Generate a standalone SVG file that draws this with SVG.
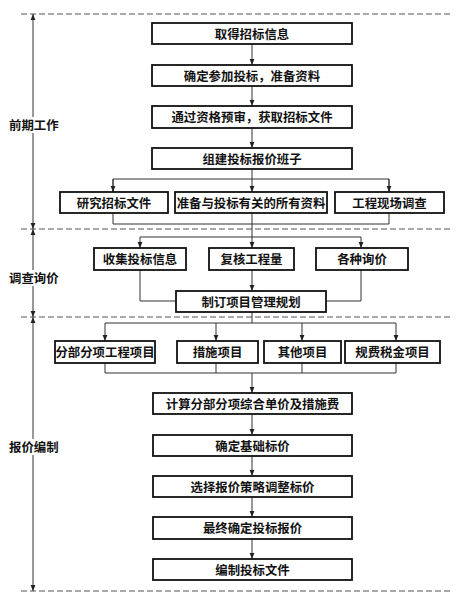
<svg xmlns="http://www.w3.org/2000/svg" width="471" height="606" viewBox="0 0 471 606">
<defs>
<marker id="ah" viewBox="0 0 6 6" refX="6" refY="3" markerWidth="6" markerHeight="6" markerUnits="userSpaceOnUse" orient="auto">
<path d="M0,0.6 L6,3 L0,5.4 Z" fill="#222"/>
</marker>
<style>
.box{fill:#fff;stroke:#111;stroke-width:1.8}
.t{font-family:"Noto Sans CJK SC","Noto Sans",sans-serif;font-size:12.4px;font-weight:bold;fill:#111;text-anchor:middle;dominant-baseline:central}
.c{fill:none;stroke:#333;stroke-width:1}
.a{fill:none;stroke:#333;stroke-width:1;marker-end:url(#ah)}
.d{fill:none;stroke:#555;stroke-width:1.2;stroke-dasharray:6 3}
.lbl{font-family:"Noto Sans CJK SC","Noto Sans",sans-serif;font-size:12.4px;font-weight:bold;fill:#111;dominant-baseline:central}
</style>
</defs>
<rect width="471" height="606" fill="#fff"/>
<g id="phases">
<line class="d" x1="21" y1="14" x2="452" y2="14"/>
<line class="d" x1="21" y1="229" x2="452" y2="229"/>
<line class="d" x1="21" y1="317" x2="452" y2="317"/>
<line class="d" x1="21" y1="591" x2="452" y2="591"/>
<line class="a" x1="33" y1="120" x2="33" y2="14"/>
<line class="a" x1="33" y1="130" x2="33" y2="229"/>
<line class="a" x1="33" y1="272" x2="33" y2="229"/>
<line class="a" x1="33" y1="284" x2="33" y2="317"/>
<line class="a" x1="33" y1="440" x2="33" y2="317"/>
<line class="a" x1="33" y1="454" x2="33" y2="591"/>
<rect x="8" y="117" width="51" height="16" fill="#fff"/>
<text class="lbl" x="9" y="125">前期工作</text>
<rect x="8" y="270" width="51" height="16" fill="#fff"/>
<text class="lbl" x="9" y="278">调查询价</text>
<rect x="8" y="439" width="51" height="16" fill="#fff"/>
<text class="lbl" x="9" y="447">报价编制</text>
</g>
<g id="connectors">
<line class="a" x1="252" y1="44" x2="252" y2="65"/>
<line class="a" x1="252" y1="86" x2="252" y2="106"/>
<line class="a" x1="252" y1="128" x2="252" y2="148"/>
<line class="a" x1="252" y1="169" x2="252" y2="192"/>
<polyline class="c" points="113,192 113,179 389,179 389,192"/>
<line class="a" x1="113" y1="179" x2="113" y2="192"/>
<line class="a" x1="389" y1="179" x2="389" y2="192"/>
<polyline class="c" points="113,213 113,224 389,224 389,213"/>
<line class="c" x1="252" y1="213" x2="252" y2="237"/>
<line class="a" x1="252" y1="237" x2="252" y2="248"/>
<line class="c" x1="140" y1="237" x2="361" y2="237"/>
<line class="a" x1="140" y1="237" x2="140" y2="248"/>
<line class="a" x1="361" y1="237" x2="361" y2="248"/>
<polyline class="c" points="140,270 140,301 176,301"/>
<polyline class="c" points="361,270 361,301 326,301"/>
<line class="a" x1="252" y1="270" x2="252" y2="291"/>
<line class="c" x1="252" y1="312" x2="252" y2="323"/>
<line class="c" x1="105" y1="323" x2="396" y2="323"/>
<line class="a" x1="105" y1="323" x2="105" y2="341"/>
<line class="a" x1="216" y1="323" x2="216" y2="341"/>
<line class="a" x1="302" y1="323" x2="302" y2="341"/>
<line class="a" x1="396" y1="323" x2="396" y2="341"/>
<polyline class="c" points="105,363 105,373 396,373 396,363"/>
<line class="c" x1="216" y1="363" x2="216" y2="373"/>
<line class="c" x1="302" y1="363" x2="302" y2="373"/>
<line class="a" x1="252" y1="373" x2="252" y2="393"/>
<line class="a" x1="252" y1="414" x2="252" y2="435"/>
<line class="a" x1="252" y1="456" x2="252" y2="476"/>
<line class="a" x1="252" y1="497" x2="252" y2="517"/>
<line class="a" x1="252" y1="539" x2="252" y2="559"/>
</g>
<g id="n1"><rect class="box" x="152" y="23" width="200" height="21"/><text class="t" x="252" y="33.5">取得招标信息</text></g>
<g id="n2"><rect class="box" x="152" y="65" width="200" height="21"/><text class="t" x="252" y="75.5">确定参加投标，准备资料</text></g>
<g id="n3"><rect class="box" x="152" y="106" width="200" height="22"/><text class="t" x="252" y="117">通过资格预审，获取招标文件</text></g>
<g id="n4"><rect class="box" x="152" y="148" width="200" height="21"/><text class="t" x="252" y="158.5">组建投标报价班子</text></g>
<g id="n5"><rect class="box" x="60" y="192" width="108" height="21"/><text class="t" x="114" y="202.5">研究招标文件</text></g>
<g id="n6"><rect class="box" x="175" y="192" width="152" height="21"/><text class="t" x="251" y="202.5">准备与投标有关的所有资料</text></g>
<g id="n7"><rect class="box" x="335" y="192" width="109" height="21"/><text class="t" x="389.5" y="202.5">工程现场调查</text></g>
<g id="n8"><rect class="box" x="94" y="248" width="92" height="22"/><text class="t" x="140" y="259">收集投标信息</text></g>
<g id="n9"><rect class="box" x="209" y="248" width="85" height="22"/><text class="t" x="251.5" y="259">复核工程量</text></g>
<g id="n10"><rect class="box" x="316" y="248" width="92" height="22"/><text class="t" x="362" y="259">各种询价</text></g>
<g id="n11"><rect class="box" x="176" y="291" width="150" height="21"/><text class="t" x="251" y="301.5">制订项目管理规划</text></g>
<g id="n12"><rect class="box" x="55" y="341" width="100" height="22"/><text class="t" x="105" y="352">分部分项工程项目</text></g>
<g id="n13"><rect class="box" x="177" y="341" width="81" height="22"/><text class="t" x="217.5" y="352">措施项目</text></g>
<g id="n14"><rect class="box" x="264" y="341" width="77" height="22"/><text class="t" x="302.5" y="352">其他项目</text></g>
<g id="n15"><rect class="box" x="345" y="341" width="95" height="22"/><text class="t" x="392.5" y="352">规费税金项目</text></g>
<g id="n16"><rect class="box" x="153" y="393" width="199" height="21"/><text class="t" x="252.5" y="403.5">计算分部分项综合单价及措施费</text></g>
<g id="n17"><rect class="box" x="153" y="435" width="199" height="21"/><text class="t" x="252.5" y="445.5">确定基础标价</text></g>
<g id="n18"><rect class="box" x="153" y="476" width="199" height="21"/><text class="t" x="252.5" y="486.5">选择报价策略调整标价</text></g>
<g id="n19"><rect class="box" x="153" y="517" width="199" height="22"/><text class="t" x="252.5" y="528">最终确定投标报价</text></g>
<g id="n20"><rect class="box" x="153" y="559" width="199" height="21"/><text class="t" x="252.5" y="569.5">编制投标文件</text></g>
</svg>
